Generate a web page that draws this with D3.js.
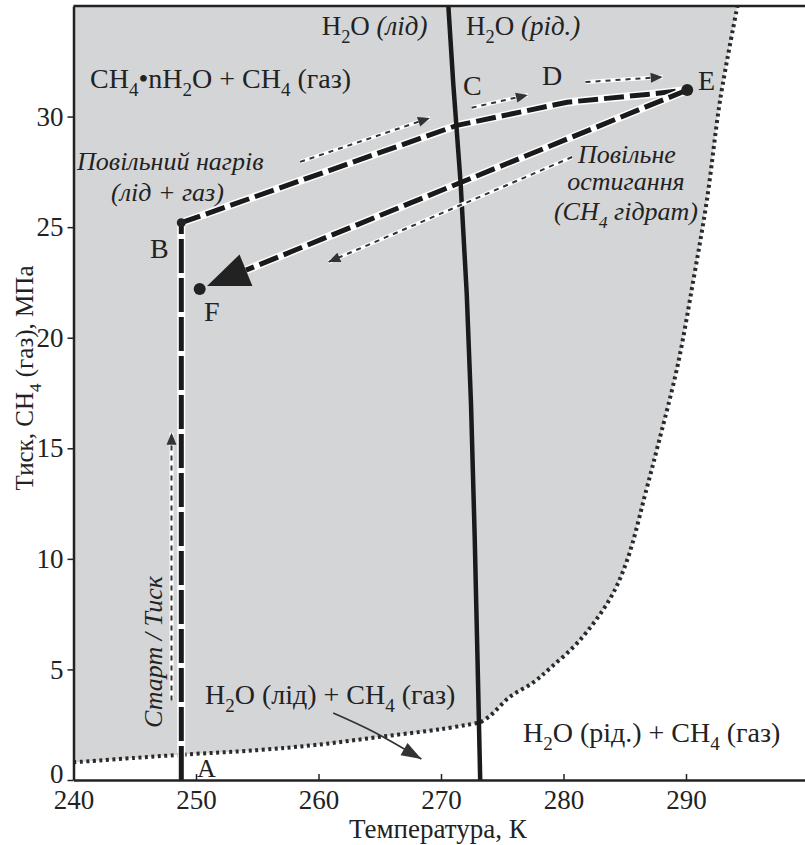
<!DOCTYPE html>
<html>
<head>
<meta charset="utf-8">
<script src="https://cdn.jsdelivr.net/npm/d3@7"></script>
<style>
  body { margin: 0; background: #fff; }
  text { font-family: "Liberation Serif", "Times New Roman", serif; fill: #222; }
</style>
</head>
<body>
<svg id="chart" width="805" height="845"></svg>
<script>
// tick values
const xTicks = [240, 250, 260, 270, 280, 290];
const yTicks = [0, 5, 10, 15, 20, 25, 30];

// hydrate stability boundary (dotted curve)
const boundaryT = [240, 245, 249, 255, 260, 265, 270, 273.2, 274, 275.6, 277.5, 279, 281.3, 283.8, 285.2, 286.8, 287.6, 289.3, 290.6, 291.7, 292.8, 294.2];
const boundaryP = [0.8, 1.0, 1.15, 1.35, 1.6, 1.95, 2.3, 2.6, 2.9, 3.75, 4.4, 5.1, 6.3, 8.2, 9.95, 13.2, 14.9, 18.7, 22.6, 26.2, 30.8, 35];

// ice / liquid water line
const meltT = [273.2, 273.0, 272.75, 272.45, 272.1, 271.6, 271.0, 270.6];
const meltP = [0, 5, 11, 17, 22, 27, 31.5, 35];

// experiment path A -> B -> C -> D -> E, then E -> F
const heatT = [248.8, 248.8, 271.3, 280.3, 286.8, 290.1];
const heatP = [0, 25.2, 29.6, 30.65, 31.0, 31.2];
const coolT = [290.1, 250.3];
const coolP = [31.2, 22.2];

// points with dots
const dotNames = ["B", "E", "F"];
const dotT = [248.8, 290.1, 250.3];
const dotP = [25.2, 31.2, 22.2];

// thin dashed direction arrows [T0, P0, T1, P1]
const guideArrows = [
  [248.0, 3.6, 248.0, 15.7],
  [258.5, 27.95, 269.1, 29.94],
  [272.5, 30.4, 277.1, 30.98],
  [281.8, 31.56, 288.1, 31.79],
  [280.7, 28.17, 260.8, 23.42]
];

// pointer from the "ice + gas" label
const pointerT = [261.2, 264.6, 268.4];
const pointerP = [3.03, 2.15, 0.95];

const width = 805;

const svg = d3.select("#chart");
const x = d3.scaleLinear().domain([240, 300]).range([73.5, 808.5]);
const y = d3.scaleLinear().domain([0, 35]).range([780, 6]);

const zip = (a, b) => a.map((d, i) => [d, b[i]]);
const line = d3.line().x(d => x(d[0])).y(d => y(d[1]));

// grey hydrate region + dotted boundary (same curve)
const boundary = zip(boundaryT, boundaryP);
const lower = boundary.slice(0, 8), upper = boundary.slice(7);
const curveLine = d3.line().x(d => x(d[0])).y(d => y(d[1])).curve(d3.curveCatmullRom);
const boundaryPath = curveLine(lower) + curveLine(upper).replace(/^M[^A-Za-z]*/, "");
svg.append("path")
  .attr("d", `${boundaryPath}L${x(240)},${y(35)}Z`)
  .attr("fill", "#d4d5d7");
svg.append("path")
  .attr("d", boundaryPath)
  .attr("fill", "none")
  .attr("stroke", "#2a2a2a")
  .attr("stroke-width", 4)
  .attr("stroke-dasharray", "3,3.5");

// thick dashed line with white halo
function thickDashed(pts, dash) {
  svg.append("path").attr("d", line(pts))
    .attr("fill", "none").attr("stroke", "#fff").attr("stroke-width", 8)
    .attr("stroke-linejoin", "round");
  svg.append("path").attr("d", line(pts))
    .attr("fill", "none").attr("stroke", "#1a1a1a").attr("stroke-width", 5)
    .attr("stroke-dasharray", dash);
}

const heat = zip(heatT, heatP);
thickDashed(heat.slice(0, 2), "34,5");
thickDashed(heat.slice(1), "20,6");

// cooling line ends at big arrow head
const ex = x(coolT[0]), ey = y(coolP[0]), fx = x(coolT[1]), fy = y(coolP[1]);
const len = Math.hypot(ex - fx, ey - fy);
const ux = (ex - fx) / len, uy = (ey - fy) / len;
const tip = [fx + ux * 8, fy + uy * 8];
const base = [tip[0] + ux * 42, tip[1] + uy * 42];
svg.append("path")
  .attr("d", `M${ex},${ey}L${base[0]},${base[1]}`)
  .attr("fill", "none").attr("stroke", "#fff").attr("stroke-width", 8);
svg.append("path")
  .attr("d", `M${ex},${ey}L${base[0]},${base[1]}`)
  .attr("fill", "none").attr("stroke", "#1a1a1a").attr("stroke-width", 5)
  .attr("stroke-dasharray", "20,6");
svg.append("path")
  .attr("d", `M${tip[0]},${tip[1]}L${base[0] - uy * 17},${base[1] + ux * 17}L${base[0] + uy * 17},${base[1] - ux * 17}Z`)
  .attr("fill", "#222");

// melting line (on top of the path, like the reference)
svg.append("path")
  .attr("d", line(zip(meltT, meltP)))
  .attr("fill", "none").attr("stroke", "#1a1a1a").attr("stroke-width", 4.5)
  .attr("stroke-linejoin", "round");

// dots
svg.selectAll("circle.pt")
  .data(dotNames)
  .join("circle")
  .attr("class", "pt")
  .attr("cx", (d, i) => x(dotT[i]))
  .attr("cy", (d, i) => y(dotP[i]))
  .attr("r", (d, i) => i === 0 ? 4.5 : 6)
  .attr("fill", "#222");

function arrowHead(x0, y0, x1, y1, l, w, color) {
  const L = Math.hypot(x1 - x0, y1 - y0);
  const vx = (x1 - x0) / L, vy = (y1 - y0) / L;
  const bx = x1 - vx * l, by = y1 - vy * l;
  svg.append("path")
    .attr("d", `M${x1},${y1}L${bx - vy * w / 2},${by + vx * w / 2}L${bx + vy * w / 2},${by - vx * w / 2}Z`)
    .attr("fill", color);
}

// thin dashed guide arrows
guideArrows.forEach(a => {
  const x0 = x(a[0]), y0 = y(a[1]), x1 = x(a[2]), y1 = y(a[3]);
  svg.append("line")
    .attr("x1", x0).attr("y1", y0).attr("x2", x1).attr("y2", y1)
    .attr("stroke", "#fff").attr("stroke-width", 4);
  svg.append("line")
    .attr("x1", x0).attr("y1", y0).attr("x2", x1).attr("y2", y1)
    .attr("stroke", "#333").attr("stroke-width", 2)
    .attr("stroke-dasharray", "5,5");
  arrowHead(x0, y0, x1, y1, 12, 10, "#333");
});

// pointer arrow
const pointer = zip(pointerT, pointerP);
svg.append("path")
  .attr("d", d3.line().x(d => x(d[0])).y(d => y(d[1])).curve(d3.curveNatural)(pointer))
  .attr("fill", "none").attr("stroke", "#333").attr("stroke-width", 1.8);
arrowHead(x(pointerT[1]), y(pointerP[1]), x(pointerT[2]), y(pointerP[2]), 20, 14, "#333");

// axes
const xAxis = svg.append("g")
  .attr("transform", `translate(0,${y(0)})`)
  .call(d3.axisBottom(x).tickValues(xTicks).tickSizeInner(-6).tickSizeOuter(0).tickPadding(10));
const yAxis = svg.append("g")
  .attr("transform", `translate(${x(240)},0)`)
  .call(d3.axisLeft(y).tickValues(yTicks).tickSizeInner(6).tickSizeOuter(0).tickPadding(4));
[xAxis, yAxis].forEach(g => {
  g.select(".domain").attr("stroke", "#222").attr("stroke-width", 2.5);
  g.selectAll(".tick line").attr("stroke", "#222").attr("stroke-width", 1.5);
  g.selectAll(".tick text").style("font-family", "Liberation Serif").style("font-size", "27px").attr("fill", "#222");
});
yAxis.selectAll(".tick text").filter(d => d === 0).attr("dy", "0.1em");
svg.append("line")
  .attr("x1", x(240)).attr("x2", width).attr("y1", y(35)).attr("y2", y(35))
  .attr("stroke", "#222").attr("stroke-width", 2.5);

// labels; parts: [text, kind] where kind: "n" normal, "i" italic, "s"/"si" subscript
function label(tx, ty, parts, opts = {}) {
  const size = opts.size || 28;
  const t = svg.append("text")
    .attr("x", tx).attr("y", ty)
    .attr("text-anchor", opts.anchor || "start")
    .style("font-size", size + "px");
  if (opts.rotate) t.attr("transform", `rotate(-90,${tx},${ty})`);
  let shift = 0;
  parts.forEach(([s, k]) => {
    const sp = t.append("tspan").text(s);
    if (k === "i" || k === "si") sp.style("font-style", "italic");
    if (k === "s" || k === "si") {
      sp.attr("font-size", "0.68em").attr("dy", `${0.3 * size}px`);
      shift = 0.3 * size;
    } else if (shift) {
      sp.attr("dy", `${-shift}px`);
      shift = 0;
    }
  });
  return t;
}

label(x(268.9), y(33.69), [["H", "n"], ["2", "s"], ["O ", "n"], ["(лід)", "i"]], { anchor: "end", size: 27 });
label(x(272.04), y(33.69), [["H", "n"], ["2", "s"], ["O ", "n"], ["(рід.)", "i"]], { size: 27 });
label(x(241.35), y(31.29), [["CH", "n"], ["4", "s"], ["•nH", "n"], ["2", "s"], ["O + CH", "n"], ["4", "s"], [" (газ)", "n"]]);
label(x(271.8), y(30.98), [["C", "n"]]);
label(x(278.25), y(31.43), [["D", "n"]]);
label(x(290.98), y(31.2), [["E", "n"]]);
label(x(247.9), y(27.58), [["Повільний нагрів", "i"]], { anchor: "middle", size: 26 });
label(x(247.67), y(26.18), [["(лід + газ)", "i"]], { anchor: "middle", size: 26 });
label(x(246.24), y(23.6), [["B", "n"]]);
label(x(250.65), y(20.76), [["F", "n"]]);
label(x(285.18), y(27.9), [["Повільне", "i"]], { anchor: "middle", size: 26 });
label(x(285.1), y(26.68), [["остигання", "i"]], { anchor: "middle", size: 26 });
label(x(285.1), y(25.32), [["(CH", "i"], ["4", "si"], [" гідрат)", "i"]], { anchor: "middle", size: 26 });
label(x(247.22), y(5.79), [["Старт / Тиск", "i"]], { anchor: "middle", rotate: true, size: 26 });
label(x(250.08), y(0.14), [["A", "n"]], { size: 26 });
label(x(250.73), y(3.44), [["H", "n"], ["2", "s"], ["O (лід) + CH", "n"], ["4", "s"], [" (газ)", "n"]]);
label(x(276.69), y(1.72), [["H", "n"], ["2", "s"], ["O (рід.) + CH", "n"], ["4", "s"], [" (газ)", "n"]]);

// axis titles
label(x(269.75), 838, [["Температура, К", "n"]], { anchor: "middle", size: 27 });
label(33, 378, [["Тиск, CH", "n"], ["4", "s"], [" (газ), МПа", "n"]], { anchor: "middle", rotate: true, size: 25 });
</script>
</body>
</html>
